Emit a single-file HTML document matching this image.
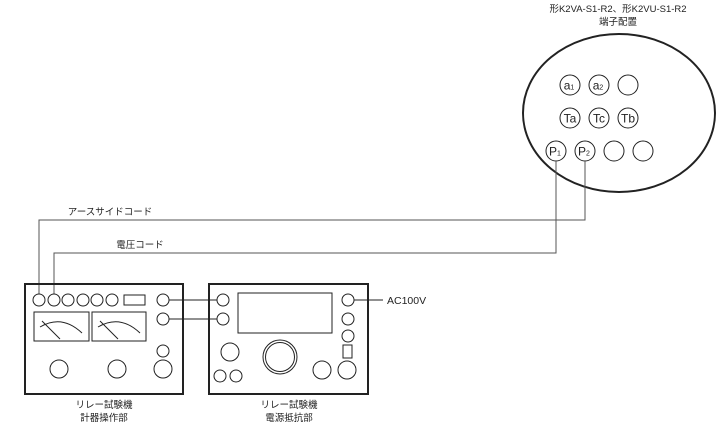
<!DOCTYPE html>
<html><head><meta charset="utf-8"><style>
html,body{margin:0;padding:0;background:#fff;}
svg{display:block;font-family:"Liberation Sans","Noto Sans CJK JP",sans-serif;}
</style></head><body>
<svg width="718" height="427" viewBox="0 0 718 427" xmlns="http://www.w3.org/2000/svg">
<g fill="none" stroke="#222" stroke-width="1">
<ellipse cx="619" cy="113" rx="96" ry="79" stroke-width="2"/>
<circle cx="570" cy="85" r="10"/><circle cx="599" cy="85" r="10"/><circle cx="628" cy="85" r="10"/>
<circle cx="570" cy="118" r="10"/><circle cx="599" cy="118" r="10"/><circle cx="628" cy="118" r="10"/>
<circle cx="556" cy="151" r="10"/><circle cx="585" cy="151" r="10"/><circle cx="614" cy="151" r="10"/><circle cx="643" cy="151" r="10"/>
<polyline points="556,161 556,253 54,253 54,294" stroke="#555"/>
<polyline points="585,161 585,220 39,220 39,294" stroke="#555"/>
<rect x="25" y="284" width="158" height="110" stroke-width="2"/>
<rect x="209" y="284" width="159" height="110" stroke-width="2"/>
<circle cx="39" cy="300" r="6"/><circle cx="54" cy="300" r="6"/><circle cx="68" cy="300" r="6"/><circle cx="83" cy="300" r="6"/><circle cx="97" cy="300" r="6"/><circle cx="112" cy="300" r="6"/>
<rect x="124" y="295" width="21" height="10"/>
<circle cx="163" cy="300" r="6"/><circle cx="163" cy="319" r="6"/>
<rect x="34" y="312" width="55" height="29"/><rect x="92" y="312" width="54" height="29"/>
<path d="M40 327 Q62 314 82 333 M42 321 L60 339"/>
<path d="M98 327 Q120 314 140 333 M100 321 L118 339"/>
<circle cx="163" cy="351" r="6"/>
<circle cx="59" cy="369" r="9"/><circle cx="117" cy="369" r="9"/><circle cx="163" cy="369" r="9"/>
<line x1="169" y1="300" x2="217" y2="300"/><line x1="169" y1="319" x2="217" y2="319"/>
<circle cx="223" cy="300" r="6"/><circle cx="223" cy="319" r="6"/>
<rect x="238" y="293" width="94" height="40"/>
<circle cx="348" cy="300" r="6"/><circle cx="348" cy="319" r="6"/><circle cx="348" cy="336" r="6"/>
<rect x="343" y="345" width="9" height="13"/>
<line x1="354" y1="300" x2="383" y2="300"/>
<circle cx="230" cy="352" r="9"/>
<circle cx="220" cy="376" r="6"/><circle cx="236" cy="376" r="6"/>
<circle cx="280" cy="357" r="17"/><circle cx="280" cy="357" r="14.5"/>
<circle cx="322" cy="370" r="9"/><circle cx="347" cy="370" r="9"/>
</g>
<g font-size="9.5" fill="#222" text-anchor="middle">
<text x="618" y="12">形K2VA-S1-R2、形K2VU-S1-R2</text>
<text x="618" y="25">端子配置</text>
<g font-size="12">
<text x="569" y="89.5">a<tspan font-size="7">1</tspan></text><text x="598" y="89.5">a<tspan font-size="7">2</tspan></text>
<text x="570" y="122.5">Ta</text><text x="599" y="122.5">Tc</text><text x="628" y="122.5">Tb</text>
<text x="555" y="155.5">P<tspan font-size="7">1</tspan></text><text x="584" y="155.5">P<tspan font-size="7">2</tspan></text>
</g>
<text x="110" y="215">アースサイドコード</text>
<text x="140" y="248">電圧コード</text>
<text x="104" y="408">リレー試験機</text><text x="104" y="421">計器操作部</text>
<text x="289" y="408">リレー試験機</text><text x="289" y="421">電源抵抗部</text>
<text x="387" y="304" text-anchor="start" font-size="10.5">AC100V</text>
</g>
</svg>
</body></html>
